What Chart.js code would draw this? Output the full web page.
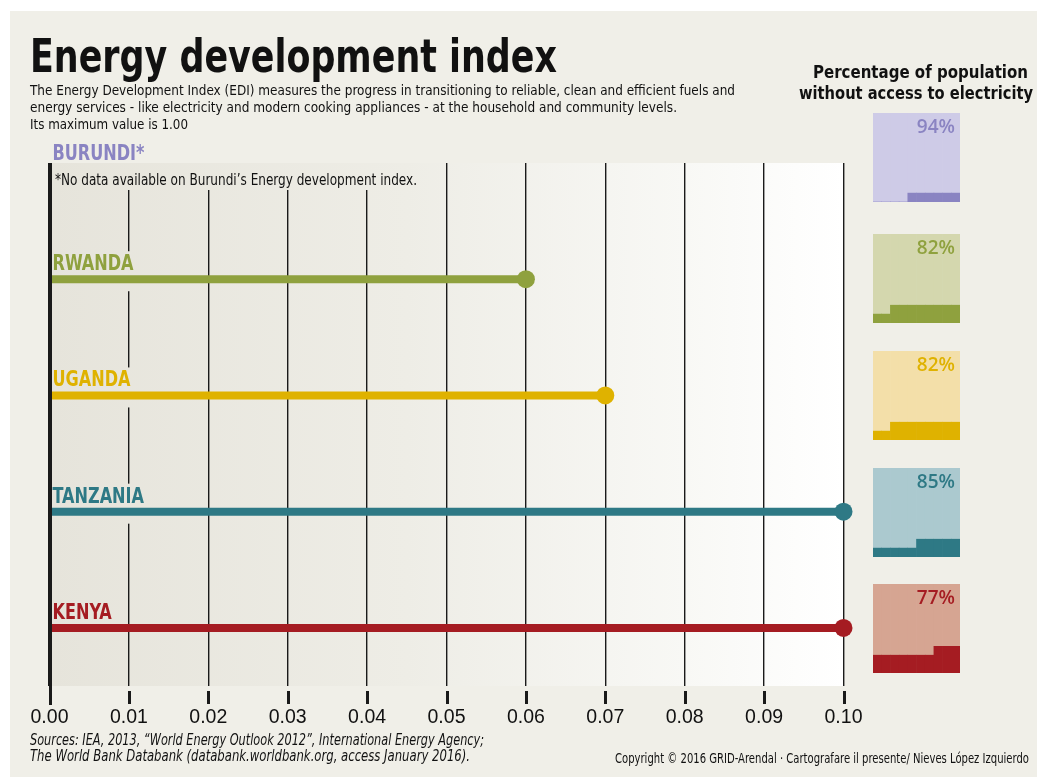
<!DOCTYPE html>
<html>
<head>
<meta charset="utf-8">
<title>Energy development index</title>
<script src="https://cdn.jsdelivr.net/npm/chart.js@4.4.1/dist/chart.umd.min.js"></script>
<style>
  html, body { margin: 0; padding: 0; background: #ffffff; }
  #page { position: relative; width: 1037px; height: 777px; overflow: hidden; background: #ffffff; }
  #panel { position: absolute; left: 10px; top: 11px; width: 1027px; height: 766px; background: #f0efe8; }
  #main { position: absolute; left: 0; top: 0; }
  .box { position: absolute; left: 873px; }
  .t {
    position: absolute; white-space: nowrap; color: #111; line-height: 1;
    font-family: "Liberation Sans Narrow", "DejaVu Sans Condensed", "Arial Narrow", sans-serif;
    transform-origin: 0 0; z-index: 3;
  }
  .b { font-weight: bold; }
  .i { font-style: italic; }
</style>
</head>
<body>
<div id="page">
  <div id="panel"></div>
  <canvas id="main" width="1037" height="777"></canvas>

  <div class="t b" style="left:30px;top:33px;font-size:46px" data-w="527">Energy development index</div>
  <div class="t" style="left:30px;top:83px;font-size:14px" data-w="705">The Energy Development Index (EDI) measures the progress in transitioning to reliable, clean and efficient fuels and</div>
  <div class="t" style="left:30px;top:100px;font-size:14px" data-w="647">energy services - like electricity and modern cooking appliances - at the household and community levels.</div>
  <div class="t" style="left:30px;top:117px;font-size:14px" data-w="158">Its maximum value is 1.00</div>

  <div class="t b" style="left:813px;top:62.5px;font-size:18.5px" data-w="215">Percentage of population</div>
  <div class="t b" style="left:799px;top:84.3px;font-size:18.5px" data-w="234">without access to electricity</div>

  <div class="t" style="left:55px;top:171.5px;font-size:16px" data-w="362">*No data available on Burundi’s Energy development index.</div>

  <div class="t i" style="left:30px;top:731.5px;font-size:16px" data-w="454">Sources: IEA, 2013, “World Energy Outlook 2012”, International Energy Agency;</div>
  <div class="t i" style="left:30px;top:747.5px;font-size:16px" data-w="440">The World Bank Databank (databank.worldbank.org, access January 2016).</div>
  <div class="t" style="left:615px;top:751px;font-size:14px" data-w="414">Copyright © 2016 GRID-Arendal · Cartografare il presente/ Nieves López Izquierdo</div>
</div>

<script>
// ---- data ----
const countries   = ['BURUNDI*', 'RWANDA', 'UGANDA', 'TANZANIA', 'KENYA'];
const ediValues   = [null, 0.06, 0.07, 0.10, 0.10];      // Energy Development Index
const noAccessPct = [94, 82, 82, 85, 77];                 // % of population without electricity
const xTickValues = [0.00, 0.01, 0.02, 0.03, 0.04, 0.05, 0.06, 0.07, 0.08, 0.09, 0.10];

// ---- styling ----
const NARROW = '"Liberation Sans Narrow", "DejaVu Sans Condensed", "Arial Narrow", sans-serif';
const darkColors  = ['#8a84c2', '#8fa13e', '#dfb200', '#2e7985', '#a51c22'];
const lightColors = ['#cecbe7', '#d4d7ae', '#f3dfa9', '#abc9cf', '#d6a592'];
const boxTops     = [113, 234, 351, 468, 584];
const BOX_W = 87, BOX_H = 89;
const LABEL_FONT = 'bold 20.5px ' + NARROW;
const LABEL_REF_WIDTH = 81;   // width of "RWANDA"; other names are condensed by the same factor

// stretch each text line to its set width
document.querySelectorAll('.t[data-w]').forEach(el => {
  const w = el.getBoundingClientRect().width;
  if (w > 0) el.style.transform = 'scaleX(' + (parseFloat(el.dataset.w) / w) + ')';
});

Chart.defaults.font.family = NARROW;
Chart.defaults.animation = false;

// background gradient, label plates, country names and axis tick marks
const panelDecor = {
  id: 'panelDecor',
  beforeDraw(chart) {
    const { ctx, chartArea: a } = chart;
    const g = ctx.createLinearGradient(a.left, 0, a.right, 0);
    g.addColorStop(0, '#e6e4db');
    g.addColorStop(0.45, '#eeede6');
    g.addColorStop(0.8, '#f8f8f5');
    g.addColorStop(1, '#ffffff');
    chart.$grad = g;
    ctx.save();
    ctx.fillStyle = g;
    ctx.fillRect(a.left, a.top, a.right - a.left, a.bottom - a.top);
    ctx.restore();
  },
  beforeDatasetsDraw(chart) {
    const { ctx, chartArea: a, scales } = chart;
    const ys = scales.y;
    ctx.save();
    ctx.fillStyle = chart.$grad;
    // plate behind the footnote
    ctx.fillRect(a.left + 2, a.top, 375, 27);
    ctx.font = LABEL_FONT;
    ctx.textBaseline = 'alphabetic';
    ctx.textAlign = 'left';
    const squeeze = Math.min(1, LABEL_REF_WIDTH / ctx.measureText('RWANDA').width);
    countries.forEach((name, i) => {
      const y = ys.getPixelForValue(i);
      const hasData = ediValues[i] !== null;
      const base = hasData ? y - 9 : a.top - 3;
      const w = ctx.measureText(name).width * squeeze;
      if (hasData) {
        ctx.fillStyle = chart.$grad;
        ctx.fillRect(a.left + 2, base - 19, w + 6, (y + 12) - (base - 19));
      }
      ctx.fillStyle = darkColors[i];
      ctx.fillText(name, a.left + 3, base, w);
    });
    ctx.restore();
  },
  afterDraw(chart) {
    const { ctx, chartArea: a, scales } = chart;
    const xs = scales.x;
    ctx.save();
    ctx.strokeStyle = '#1a1a1a';
    ctx.lineWidth = 3;
    xTickValues.forEach((v, i) => {
      const x = Math.round(xs.getPixelForValue(v)) + 0.5;
      ctx.beginPath();
      if (i === 0) { ctx.moveTo(x, a.top); ctx.lineTo(x, a.bottom + 19); }
      else { ctx.moveTo(x, a.bottom + 5); ctx.lineTo(x, a.bottom + 18); }
      ctx.stroke();
    });
    ctx.restore();
  }
};

new Chart(document.getElementById('main'), {
  type: 'scatter',
  data: {
    datasets: countries.map((name, i) => ({
      label: name,
      data: ediValues[i] === null ? [] : [{ x: 0, y: i }, { x: ediValues[i], y: i }],
      showLine: true,
      borderColor: darkColors[i],
      backgroundColor: darkColors[i],
      borderWidth: 8,
      borderCapStyle: 'butt',
      pointRadius: [0, 9],
      pointHoverRadius: [0, 9],
      pointBorderWidth: 0,
      pointBackgroundColor: darkColors[i],
      clip: false
    }))
  },
  options: {
    responsive: false,
    events: [],
    layout: { padding: { left: 49.5, right: 193.5, top: 163, bottom: 0 } },
    plugins: { legend: { display: false }, tooltip: { enabled: false } },
    scales: {
      x: {
        type: 'linear', min: 0, max: 0.1,
        afterBuildTicks: s => { s.ticks = xTickValues.map(v => ({ value: v })); },
        afterFit: s => { s.height = 91; },
        border: { display: false },
        grid: {
          drawTicks: false,
          color: '#1a1a1a',
          lineWidth: c => (c.index === 0 ? 3 : 1.4)
        },
        ticks: {
          padding: 20,
          color: '#111',
          font: { size: 19.5, family: '"Liberation Sans", Arial, sans-serif' },
          callback: v => Number(v).toFixed(2)
        }
      },
      y: { type: 'linear', min: 0, max: 4.5, reverse: true, display: false }
    }
  },
  plugins: [panelDecor]
});

// ---- 10 x 10 cell boxes: light = without access, dark = with access ----
const pctLabel = {
  id: 'pctLabel',
  afterDraw(chart) {
    const i = chart.options.plugins.pctLabel.index;
    const { ctx, width } = chart;
    ctx.save();
    ctx.font = '600 19px "Open Sans", ' + NARROW;
    ctx.fillStyle = darkColors[i];
    ctx.textAlign = 'right';
    ctx.textBaseline = 'alphabetic';
    ctx.fillText(noAccessPct[i] + '%', width - 5, 20);
    ctx.restore();
  }
};

const page = document.getElementById('page');
countries.forEach((name, i) => {
  const cv = document.createElement('canvas');
  cv.className = 'box';
  cv.width = BOX_W; cv.height = BOX_H;
  cv.style.top = boxTops[i] + 'px';
  page.appendChild(cv);

  const withAccess = 100 - noAccessPct[i];
  const fullRows = Math.floor(withAccess / 10);
  const rest = withAccess % 10;
  const cols = [0, 1, 2, 3, 4, 5, 6, 7, 8, 9];
  const filled = cols.map(c => fullRows + (c >= 10 - rest ? 1 : 0));
  const empty = filled.map(f => 10 - f);

  new Chart(cv, {
    type: 'bar',
    data: {
      labels: cols.map(String),
      datasets: [
        { data: filled, backgroundColor: darkColors[i], borderWidth: 0, barPercentage: 1, categoryPercentage: 1 },
        { data: empty, backgroundColor: lightColors[i], borderWidth: 0, barPercentage: 1, categoryPercentage: 1 }
      ]
    },
    options: {
      responsive: false,
      events: [],
      layout: { padding: 0 },
      plugins: { legend: { display: false }, tooltip: { enabled: false }, pctLabel: { index: i } },
      scales: {
        x: { stacked: true, display: false },
        y: { stacked: true, display: false, min: 0, max: 10 }
      }
    },
    plugins: [pctLabel]
  });
});
</script>
</body>
</html>
